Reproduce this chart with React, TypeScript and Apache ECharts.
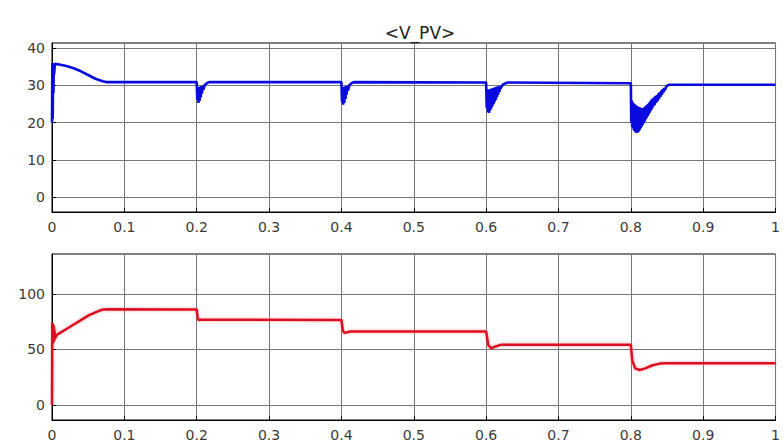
import React, { useEffect, useRef } from "react";
import * as echarts from "echarts";

const title = "<V_PV>";
const xTicks = [0, 0.1, 0.2, 0.3, 0.4, 0.5, 0.6, 0.7, 0.8, 0.9, 1];
const topYTicks = [0, 10, 20, 30, 40];
const bottomYTicks = [0, 50, 100];

const vpvTime = [
  0, 0.0005, 0.001, 0.0015, 0.002, 0.0025, 0.003, 0.004, 0.01, 0.02, 0.03, 0.04, 0.05, 0.06, 0.07, 0.075,
  0.2, 0.2008, 0.2016, 0.2024, 0.2032, 0.204, 0.2048, 0.2056, 0.2064, 0.2072, 0.208, 0.209, 0.211, 0.214, 0.217,
  0.4, 0.4008, 0.4016, 0.4024, 0.4032, 0.404, 0.4048, 0.4056, 0.4064, 0.4072, 0.408, 0.409, 0.411, 0.414, 0.417,
  0.6, 0.6008, 0.6016, 0.6024, 0.6032, 0.604, 0.6048, 0.6056, 0.6064, 0.6072, 0.608, 0.6088, 0.6096, 0.6104,
  0.6112, 0.612, 0.6128, 0.6136, 0.6144, 0.6152, 0.616, 0.6168, 0.6176, 0.6184, 0.6192, 0.62, 0.623, 0.627, 0.63,
  0.8, 0.8006, 0.8012, 0.8018, 0.8024, 0.803, 0.8036, 0.8042, 0.8048, 0.8054, 0.806, 0.8066, 0.8072, 0.8078,
  0.8084, 0.809, 0.8096, 0.8102, 0.8108, 0.8114, 0.812, 0.8126, 0.8132, 0.8138, 0.8144, 0.815, 0.8156, 0.8162,
  0.8168, 0.8174, 0.818, 0.8186, 0.8192, 0.8198, 0.8204, 0.821, 0.8216, 0.8222, 0.8228, 0.8234, 0.824, 0.8246,
  0.8252, 0.8258, 0.8264, 0.827, 0.8276, 0.8282, 0.8288, 0.8294, 0.83, 0.831, 0.832, 0.833, 0.834, 0.835, 0.836,
  0.837, 0.838, 0.839, 0.84, 0.841, 0.842, 0.843, 0.844, 0.845, 0.846, 0.847, 0.849, 0.851, 0.853,
  1,
];
const vpvValue = [
  20, 36, 21, 36, 28, 36, 33, 35.8, 35.6, 35.2, 34.6, 33.8, 32.8, 31.8, 31.1, 30.9,
  30.9, 26, 29.6, 25.3, 29.6, 25.8, 29.7, 26.8, 29.8, 27.8, 29.9, 28.8, 30.1, 30.6, 30.9,
  30.9, 25.5, 29.6, 24.8, 29.6, 25.3, 29.7, 26.4, 29.8, 27.5, 29.9, 28.6, 30.1, 30.6, 30.9,
  30.8, 24, 29, 22.8, 29, 22.6, 29, 23.2, 29.1, 23.8, 29.2, 24.4, 29.3, 25,
  29.4, 25.6, 29.5, 26.2, 29.6, 26.9, 29.7, 27.6, 29.8, 28.3, 29.9, 29.2, 30.2, 30.6, 30.8,
  30.6, 20, 26, 19, 25.5, 18.5, 25.2, 18, 25, 17.7, 24.8, 17.4, 24.6, 17.2,
  24.5, 17.3, 24.3, 17.5, 24.2, 17.8, 24.1, 18.2, 24, 18.6, 23.9, 19, 23.9, 19.4,
  23.9, 19.8, 24, 20.2, 24.2, 20.6, 24.4, 21, 24.6, 21.4, 24.8, 21.8, 25, 22.2,
  25.3, 22.6, 25.6, 23, 25.9, 23.4, 26.2, 23.8, 26.5, 24.3, 26.8, 24.8, 27.1, 25.3, 27.4,
  25.8, 27.8, 26.3, 28.2, 26.9, 28.6, 27.5, 29, 28.1, 29.3, 28.7, 29.7, 30, 30.2,
  30.2,
];

const ioutTime = [
  0, 0.0004, 0.0008, 0.0012, 0.0016, 0.002, 0.0024, 0.0028, 0.0032, 0.0036, 0.004, 0.0065, 0.01, 0.02, 0.03, 0.04,
  0.05, 0.06, 0.066, 0.07, 0.08,
  0.2, 0.2015, 0.203, 0.205, 0.4, 0.402, 0.404, 0.408, 0.412, 0.6, 0.603, 0.607, 0.612, 0.62,
  0.8, 0.802, 0.806, 0.812, 0.82, 0.83, 0.84, 0.85, 1,
];
const ioutValue = [
  0, 74, 55, 73, 56, 72, 57, 70, 58, 67, 60, 63, 64.5, 68.5, 72.5, 76.5,
  80.5, 83.5, 85, 86, 86.2,
  86, 77.5, 76.5, 76.8, 76.6, 67, 65, 65.5, 66.2, 66.2, 54, 51, 52.5, 54.2,
  54.2, 40, 33, 31.5, 33, 35.8, 37.3, 37.7, 37.6,
];

const pair = (t: number[], v: number[]) => t.map((x, i) => [x, v[i]]);

export default function App() {
  const ref = useRef<HTMLDivElement>(null);
  useEffect(() => {
    if (!ref.current) return;
    const chart = echarts.init(ref.current, null, { renderer: "svg" });
    const font = "DejaVu Sans, Verdana, sans-serif";
    const labelStyle = { color: "#3a3a3a", fontSize: 14, fontFamily: font };
    const xAxisCommon = (gridIndex: number) => ({
      type: "value" as const,
      gridIndex,
      min: 0,
      max: 1,
      interval: 0.1,
      axisLine: { show: true, onZero: false, lineStyle: { color: "#000", width: 1 } },
      axisTick: { show: true, inside: true, length: 4, customValues: xTicks, lineStyle: { color: "#000" } },
      axisLabel: {
        ...labelStyle,
        margin: 8,
        customValues: xTicks,
        formatter: (v: number) => String(parseFloat(v.toFixed(1))),
      },
      splitLine: { show: true, lineStyle: { color: "#777", width: 1 } },
    });
    const yAxisCommon = (gridIndex: number, min: number, max: number, ticks: number[]) => ({
      type: "value" as const,
      gridIndex,
      min,
      max,
      axisLine: { show: true, onZero: false, lineStyle: { color: "#000", width: 1 } },
      axisTick: { show: true, inside: true, length: 4, customValues: ticks, lineStyle: { color: "#000" } },
      axisLabel: { ...labelStyle, margin: 7, customValues: ticks },
      splitLine: { show: true, lineStyle: { color: "#777", width: 1 } },
    });
    chart.setOption({
      animation: false,
      backgroundColor: "#fff",
      title: {
        text: title,
        left: 415,
        top: 19,
        textAlign: "center",
        textStyle: { fontSize: 17, fontWeight: "normal", color: "#222", fontFamily: font },
      },
      grid: [
        { left: 52, right: 4, top: 43, height: 169, show: true, borderColor: "#000", borderWidth: 1, backgroundColor: "#fff" },
        { left: 52, right: 4, top: 254, height: 166, show: true, borderColor: "#000", borderWidth: 1, backgroundColor: "#fff" },
      ],
      xAxis: [xAxisCommon(0), xAxisCommon(1)],
      yAxis: [yAxisCommon(0, -4, 41.4, topYTicks), yAxisCommon(1, -13.5, 136, bottomYTicks)],
      series: [
        {
          type: "line",
          xAxisIndex: 0,
          yAxisIndex: 0,
          data: pair(vpvTime, vpvValue),
          showSymbol: false,
          lineStyle: { color: "#0a0ae0", width: 2.6 },
          z: 5,
        },
        {
          type: "line",
          xAxisIndex: 1,
          yAxisIndex: 1,
          data: pair(ioutTime, ioutValue),
          showSymbol: false,
          lineStyle: { color: "#dd1020", width: 2.5, shadowColor: "rgba(255,80,90,0.5)", shadowBlur: 3 },
          z: 5,
        },
      ],
    });
    return () => chart.dispose();
  }, []);
  return <div ref={ref} style={{ width: 783, height: 445, position: "absolute", left: 0, top: 0 }} />;
}
